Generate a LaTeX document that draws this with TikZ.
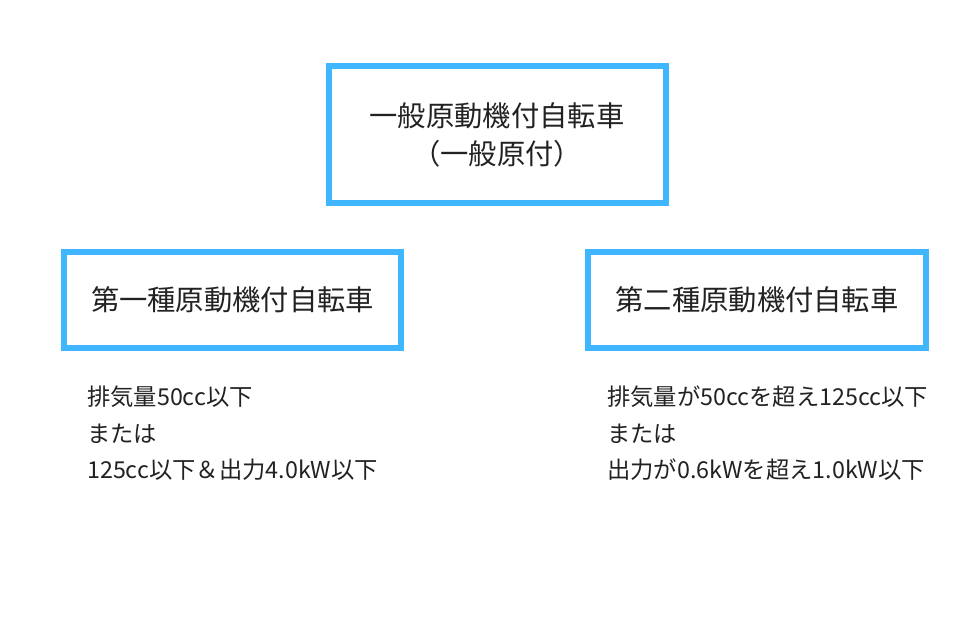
\documentclass[tikz,border=0pt]{standalone}
\usepackage{fontspec}
\setmainfont{Noto Sans CJK JP}
\usetikzlibrary{positioning}
\definecolor{boxblue}{RGB}{64,182,255}
\definecolor{ink}{RGB}{34,34,34}

\begin{document}
\begin{tikzpicture}[x=1pt,y=-1pt,
    kindbox/.style={draw=boxblue, line width=6pt, fill=white, text=ink,
      minimum width=337pt, minimum height=96pt, align=center,
      font=\fontsize{28.3pt}{38pt}\selectfont},
    note/.style={text=ink, inner sep=0pt, align=left,
      font=\fontsize{23.3pt}{36.5pt}\selectfont}]
  \useasboundingbox[fill=white] (0,0) rectangle (960,640);
  \node [kindbox, minimum height=137pt] (general) at (497,134.7)
    {一般原動機付自転車\\（一般原付）};
  \node [kindbox] (first) at (232.5,300) {第一種原動機付自転車};
  \node [kindbox, minimum width=338pt] (second) at (757,300) {第二種原動機付自転車};
  \node [note, below right=35pt and 26pt of first.south west] (firstnote)
    {排気量50cc以下\\または\\125cc以下＆出力4.0kW以下};
  \node [note, below right=35pt and 22pt of second.south west] (secondnote)
    {排気量が50ccを超え125cc以下\\または\\出力が0.6kWを超え1.0kW以下};
\end{tikzpicture}
\end{document}
